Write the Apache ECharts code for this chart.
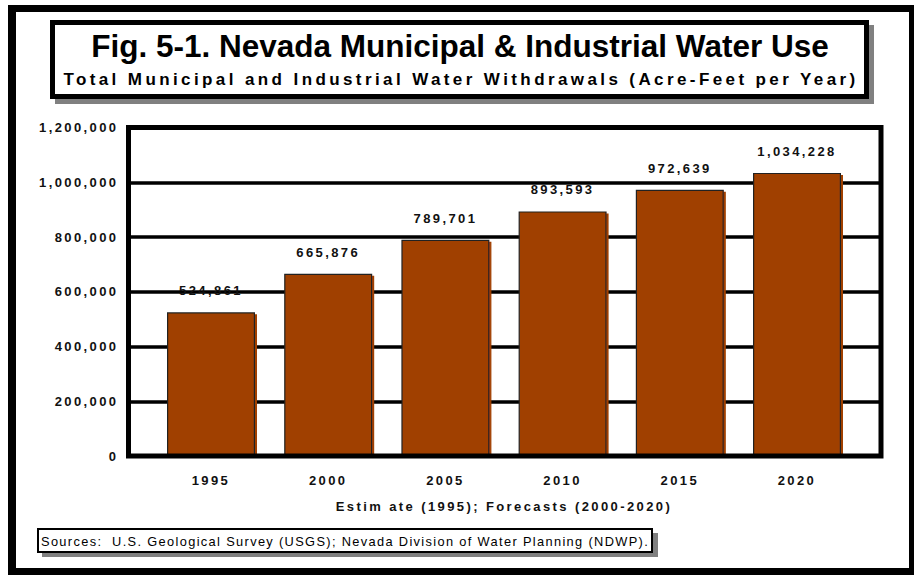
<!DOCTYPE html>
<html>
<head>
<meta charset="utf-8">
<script src="https://cdn.jsdelivr.net/npm/echarts@6/dist/echarts.min.js"></script>
<style>
  html, body { margin: 0; padding: 0; background: #fff; }
  #chart { width: 914px; height: 575px; }
  /* keep double spaces and add the wide tracking of the labels */
  #chart text { white-space: pre; }
  #chart text[style*="17px"] { letter-spacing: 3.4px; }
  #chart text[style*="13px"] { letter-spacing: 2.4px; }
  #chart text[style*="12.8px"] { letter-spacing: 1.35px; }
</style>
</head>
<body>
<div id="chart"></div>
<script>
// Nevada municipal & industrial withdrawals, acre-feet per year
const years = ['1995', '2000', '2005', '2010', '2015', '2020'];
const withdrawals = [524861, 665876, 789701, 893593, 972639, 1034228];
const yMin = 0;
const yMax = 1200000;
const yStep = 200000;

const titleText = 'Fig. 5-1. Nevada Municipal & Industrial Water Use';
const subtitleText = 'Total Municipal and Industrial Water Withdrawals (Acre-Feet per Year)';
const xAxisTitle = 'Estim ate (1995); Forecasts (2000-2020)';
const sourceNote = 'Sources:  U.S. Geological Survey (USGS); Nevada Division of Water Planning (NDWP).';

const FONT = "'Liberation Sans', Arial, sans-serif";
const INK = '#111';
const BAR = '#A04000';
const fmt = v => Number(v).toLocaleString('en-US');

const chart = echarts.init(document.getElementById('chart'), null, { renderer: 'svg' });

chart.setOption({
  animation: false,
  backgroundColor: '#fff',
  grid: [
    { left: 128.5, right: 33, top: 127.5, bottom: 119 },
    { left: 152.4, right: 58.4, top: 127.5, bottom: 119 }
  ],
  xAxis: [
    { gridIndex: 0, type: 'value', min: 0, max: 1, show: false },
    {
      gridIndex: 1, type: 'category', data: years,
      axisLine: { show: false }, axisTick: { show: false },
      axisLabel: { margin: 18, fontSize: 13, fontWeight: 'bold', fontFamily: FONT, color: INK },
      name: xAxisTitle, nameLocation: 'middle', nameGap: 44,
      nameTextStyle: { fontSize: 13, fontWeight: 'bold', fontFamily: FONT, color: INK }
    }
  ],
  yAxis: [
    {
      gridIndex: 0, type: 'value', min: yMin, max: yMax, interval: yStep,
      axisLine: { show: false }, axisTick: { show: false },
      splitLine: { show: true, lineStyle: { color: '#000', width: 3.5 } },
      axisLabel: { margin: 10, fontSize: 13, fontWeight: 'bold', fontFamily: FONT, color: INK, formatter: fmt }
    },
    { gridIndex: 1, type: 'value', min: yMin, max: yMax, interval: yStep, show: false, splitLine: { show: false } }
  ],
  series: [{
    type: 'bar',
    xAxisIndex: 1, yAxisIndex: 1,
    data: withdrawals,
    barWidth: 88,
    itemStyle: {
      color: BAR, borderColor: '#222', borderWidth: 1.2,
      shadowColor: BAR, shadowOffsetX: 2, shadowOffsetY: 2, shadowBlur: 0
    },
    label: {
      show: true, position: 'top', distance: 15,
      fontSize: 13, fontWeight: 'bold', fontFamily: FONT, color: INK,
      formatter: p => fmt(p.value)
    }
  }],
  graphic: [
    // page frame
    { type: 'rect', shape: { x: 8, y: 5, width: 8, height: 570 }, style: { fill: '#000' } },
    { type: 'rect', shape: { x: 8, y: 5, width: 906, height: 7 }, style: { fill: '#000' } },
    { type: 'rect', shape: { x: 909, y: 5, width: 5, height: 570 }, style: { fill: '#000' } },
    { type: 'rect', shape: { x: 8, y: 568, width: 906, height: 7 }, style: { fill: '#000' } },
    // title panel with drop shadow
    { type: 'rect', shape: { x: 55, y: 25, width: 819, height: 79 }, style: { fill: '#808080' } },
    { type: 'rect', shape: { x: 52.5, y: 22.5, width: 814, height: 74 }, style: { fill: '#fff', stroke: '#000', lineWidth: 5 } },
    {
      type: 'text', x: 460, y: 46,
      style: { text: titleText, fontSize: 31.5, fontWeight: 'bold', fontFamily: FONT, fill: '#000',
               align: 'center', verticalAlign: 'middle', textAlign: 'center', textVerticalAlign: 'middle' }
    },
    {
      type: 'text', x: 461, y: 79,
      style: { text: subtitleText, fontSize: 17, fontWeight: 'bold', fontFamily: FONT, fill: '#000',
               align: 'center', verticalAlign: 'middle', textAlign: 'center', textVerticalAlign: 'middle' }
    },
    // plot frame
    { type: 'rect', z: 100, shape: { x: 128.5, y: 127.5, width: 752.5, height: 328.5 },
      style: { fill: 'none', stroke: '#000', lineWidth: 5 } },
    // sources note with drop shadow
    { type: 'rect', shape: { x: 42, y: 533, width: 616, height: 24 }, style: { fill: '#808080' } },
    { type: 'rect', shape: { x: 38, y: 529, width: 614, height: 23 }, style: { fill: '#fff', stroke: '#000', lineWidth: 2 } },
    {
      type: 'text', x: 41, y: 541,
      style: { text: sourceNote, fontSize: 12.8, fontFamily: FONT, fill: '#000',
               align: 'left', verticalAlign: 'middle', textAlign: 'left', textVerticalAlign: 'middle' }
    }
  ]
});
</script>
</body>
</html>
